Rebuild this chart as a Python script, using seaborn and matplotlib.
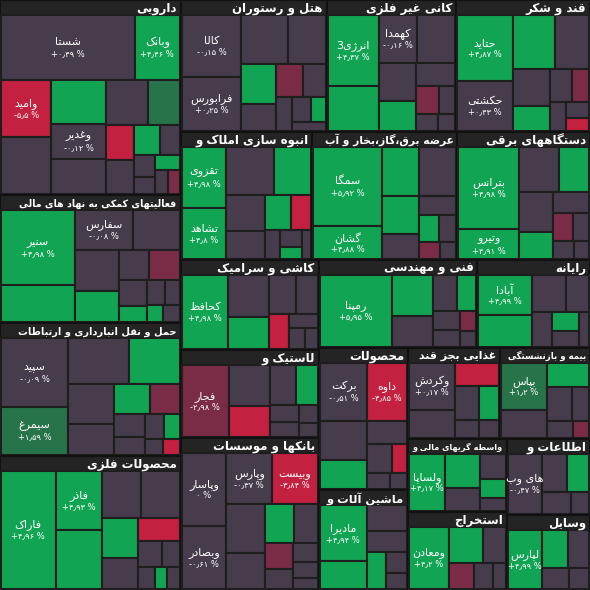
import matplotlib
matplotlib.use("Agg")
import matplotlib.pyplot as plt
import seaborn as sns
from matplotlib.patches import Rectangle

sns.set_theme(style="white")
plt.rcParams['font.family'] = ['DejaVu Sans']

# ---------------- data ----------------
sector_names = ["دارویی", "فعالیتهای کمکی به نهاد های مالی", "حمل و نقل انبارداری و ارتباطات",
                "محصولات فلزی", "هتل و رستوران", "کانی غیر فلزی", "قند و شکر",
                "انبوه سازی املاک و", "عرضه برق،گاز،بخار و آب", "دستگاههای برقی",
                "کاشی و سرامیک", "لاستیک و", "بانکها و موسسات", "فنی و مهندسی",
                "رایانه", "محصولات", "ماشین آلات و", "غذایی بجز قند", "بیمه و بازنشستگی",
                "واسطه گریهای مالی و", "استخراج", "اطلاعات و", "وسایل"]
sector_stocks = [
    [("شستا", 9, 0.49), ("وبانک", 3, 4.46), ("وامید", 3, -5.5), ("وغدیر", 2, -0.12)],
    [("سنیر", 6, 4.98), ("سفارس", 2.5, -0.08)],
    [("سپید", 5, -0.09), ("سیمرغ", 3.5, 1.59)],
    [("فاراک", 7, 4.96), ("فاذر", 3, 4.93)],
    [("کالا", 4, -0.15), ("فرابورس", 3.5, 0.25)],
    [("انرژی3", 4, 4.37), ("کهمدا", 2, -0.16)],
    [("حتاید", 4, 4.87), ("حکشتی", 3, 0.43)],
    [("تقزوی", 3, 4.98), ("تشاهد", 2.5, 4.8)],
    [("سمگا", 6, 5.92), ("گشان", 2.5, 4.88)],
    [("بترانس", 5.5, 4.98), ("وتیرو", 2, 4.91)],
    [("کحافظ", 4, 4.98)],
    [("فجار", 4, -2.98)],
    [("وپاسار", 3.5, 0.0), ("وبصادر", 3, -0.61), ("وپارس", 2.5, -0.37), ("وبیست", 2.5, -3.84)],
    [("رمپنا", 6, 5.95)],
    [("آبادا", 2.5, 4.99)],
    [("برکت", 3, -0.51), ("داوه", 2.5, -3.85)],
    [("مادیرا", 3, 4.94)],
    [("وکردش", 2.5, 0.17)],
    [("بپاس", 2.5, 1.2)],
    [("ولساپا", 2.5, 4.17)],
    [("ومعادن", 3, 4.2)],
    [("های وب", 2.5, -0.47)],
    [("لپارس", 2.5, 4.99)],
]
sector_fill_sizes = [
    [3, 2.5, 2, 2, 1.5, 1, 1, 0.8, 0.6, 0.5, 0.4, 0.4, 0.3, 0.3],
    [3, 2, 2, 1.5, 1, 1, 0.8, 0.5, 0.5, 0.4, 0.3, 0.3],
    [3, 2.5, 2, 1.5, 1.2, 1, 0.8, 0.6, 0.5, 0.4, 0.3, 0.3],
    [3, 2, 2, 1.5, 1.2, 1, 0.7, 0.5, 0.4, 0.3, 0.3],
    [2.5, 2, 1.5, 1, 1, 0.8, 0.6, 0.5, 0.4, 0.3],
    [2.5, 2, 1.5, 1.2, 1, 0.7, 0.5, 0.4, 0.3],
    [2.5, 2, 1.5, 1, 0.8, 0.6, 0.5, 0.4, 0.3],
    [2.5, 2, 1.5, 1.2, 1, 0.8, 0.5, 0.4, 0.3, 0.3],
    [2, 2, 1.5, 1, 0.8, 0.6, 0.5, 0.4, 0.3],
    [2, 1.5, 1.5, 1, 0.8, 0.6, 0.5, 0.4, 0.3],
    [2, 1.5, 1.2, 1, 0.8, 0.5, 0.4, 0.3],
    [2, 1.5, 1.2, 1, 0.6, 0.5, 0.4, 0.3],
    [2, 1.5, 1.2, 1, 0.8, 0.6, 0.5, 0.4, 0.3],
    [2, 1.5, 1, 0.8, 0.6, 0.5, 0.4, 0.3],
    [2, 1.5, 1, 0.8, 0.6, 0.5, 0.4],
    [2, 1.5, 1, 0.8, 0.5, 0.4, 0.3],
    [1.5, 1.2, 1, 0.8, 0.5, 0.4], [1.5, 1.2, 1, 0.8, 0.5, 0.4], [1.5, 1.2, 1, 0.7, 0.5, 0.3],
    [1.5, 1, 0.8, 0.6, 0.4], [1.5, 1, 0.8, 0.6, 0.4], [1.2, 1, 0.8, 0.5], [1.2, 1, 0.7, 0.5],
]
sector_fill_pcts = [
    [0.2, 4.9, -0.5, 0.1, 2.1, -3.5, 0.3, 4.5, -0.8, 0.1, -0.2, 4.7, 0.0, -1.3],
    [4.9, 0.1, -0.4, 4.8, 0.2, -1.5, 0.0, 3.2, 0.1, -0.3, 4.6, 0.2],
    [0.3, 4.9, -0.2, 0.1, 4.7, -1.2, 0.2, 0.5, -0.1, 4.4, 0.0, -3.1],
    [4.9, 0.1, -0.6, 4.5, 0.3, -3.2, 0.2, 0.1, -0.4, 4.8, 0.0],
    [0.2, -0.3, 4.8, 0.1, -1.8, 0.4, 0.0, -0.2, 4.6, 0.1],
    [4.9, 0.2, -0.4, 4.1, 0.1, -2.2, 0.3, 0.0, -0.5],
    [4.8, 0.3, -0.2, 4.6, 0.1, -1.4, 0.0, 0.2, -3.4],
    [0.1, 4.9, -0.7, 0.2, 4.4, -3.1, 0.3, 0.0, 4.7, -0.2],
    [4.9, 0.2, 4.7, -0.3, 0.1, 4.2, 0.0, -1.1, 0.2],
    [0.2, 4.8, -0.4, 4.5, 0.1, -1.6, 0.3, 0.0, -0.2],
    [0.1, 4.7, -0.2, 0.3, -3.4, 0.0, 0.2, -0.1],
    [0.2, -3.6, 0.1, 4.3, -0.5, 0.0, 0.3, -0.2],
    [0.1, -0.3, 4.6, 0.2, -1.9, 0.4, 0.0, -0.2, 0.1],
    [4.9, 0.2, -0.3, 4.4, 0.1, 0.0, -1.2, 0.2],
    [4.8, 0.1, -0.4, 0.3, 4.1, 0.0, -0.2],
    [0.2, 4.7, -0.3, 0.1, -3.2, 0.0, 0.3],
    [4.9, 0.2, -0.5, 4.3, 0.1, 0.0], [0.1, -3.3, 0.2, 4.4, 0.0, -0.3], [0.3, 4.8, -0.2, 0.1, 0.0, -1.4],
    [4.9, 0.1, -0.4, 4.2, 0.0], [4.8, 0.2, -1.7, 0.1, 0.0], [0.2, 4.6, -0.3, 0.1], [4.9, 0.1, -0.2, 0.0],
]

# ---------------- Arabic/Persian shaping ----------------
FORMS = {
    'ا': (0xFE8D, 0xFE8E, None, None), 'آ': (0xFE81, 0xFE82, None, None),
    'ب': (0xFE8F, 0xFE90, 0xFE91, 0xFE92), 'پ': (0xFB56, 0xFB57, 0xFB58, 0xFB59),
    'ت': (0xFE95, 0xFE96, 0xFE97, 0xFE98), 'ث': (0xFE99, 0xFE9A, 0xFE9B, 0xFE9C),
    'ج': (0xFE9D, 0xFE9E, 0xFE9F, 0xFEA0), 'چ': (0xFB7A, 0xFB7B, 0xFB7C, 0xFB7D),
    'ح': (0xFEA1, 0xFEA2, 0xFEA3, 0xFEA4), 'خ': (0xFEA5, 0xFEA6, 0xFEA7, 0xFEA8),
    'د': (0xFEA9, 0xFEAA, None, None), 'ذ': (0xFEAB, 0xFEAC, None, None),
    'ر': (0xFEAD, 0xFEAE, None, None), 'ز': (0xFEAF, 0xFEB0, None, None),
    'ژ': (0xFB8A, 0xFB8B, None, None),
    'س': (0xFEB1, 0xFEB2, 0xFEB3, 0xFEB4), 'ش': (0xFEB5, 0xFEB6, 0xFEB7, 0xFEB8),
    'ص': (0xFEB9, 0xFEBA, 0xFEBB, 0xFEBC), 'ض': (0xFEBD, 0xFEBE, 0xFEBF, 0xFEC0),
    'ط': (0xFEC1, 0xFEC2, 0xFEC3, 0xFEC4), 'ظ': (0xFEC5, 0xFEC6, 0xFEC7, 0xFEC8),
    'ع': (0xFEC9, 0xFECA, 0xFECB, 0xFECC), 'غ': (0xFECD, 0xFECE, 0xFECF, 0xFED0),
    'ف': (0xFED1, 0xFED2, 0xFED3, 0xFED4), 'ق': (0xFED5, 0xFED6, 0xFED7, 0xFED8),
    'ک': (0xFB8E, 0xFB8F, 0xFB90, 0xFB91), 'گ': (0xFB92, 0xFB93, 0xFB94, 0xFB95),
    'ل': (0xFEDD, 0xFEDE, 0xFEDF, 0xFEE0), 'م': (0xFEE1, 0xFEE2, 0xFEE3, 0xFEE4),
    'ن': (0xFEE5, 0xFEE6, 0xFEE7, 0xFEE8), 'و': (0xFEED, 0xFEEE, None, None),
    'ه': (0xFEE9, 0xFEEA, 0xFEEB, 0xFEEC), 'ی': (0xFBFC, 0xFBFD, 0xFBFE, 0xFBFF),
}

def shape(s):
    out = []
    n = len(s)
    for i, ch in enumerate(s):
        if ch not in FORMS:
            out.append(ch)
            continue
        iso, fin, ini, med = FORMS[ch]
        prev = s[i - 1] if i > 0 else ''
        nxt = s[i + 1] if i + 1 < n else ''
        jp = prev in FORMS and FORMS[prev][2] is not None
        jn = nxt in FORMS and ini is not None
        c = med if (jp and jn) else fin if jp else ini if jn else iso
        out.append(chr(c))
    return ''.join(out)[::-1]

PD = str.maketrans('0123456789.', '۰۱۲۳۴۵۶۷۸۹٫')

def pct_label(p):
    sign = '+' if p > 0 else ('-' if p < 0 else '')
    num = f"{abs(p):.2f}".rstrip('0').rstrip('.') if p != 0 else '0'
    return f"{sign}{num.translate(PD)} %"

def color(p):
    if p >= 3: return '#11a553'
    if p >= 1: return '#27744a'
    if p > -1: return '#463c4b'
    if p > -3: return '#7a2b46'
    return '#c4203f'

# ---------------- squarify ----------------
def worst(row, w):
    s = sum(row)
    return max(max(w * w * r / (s * s), s * s / (w * w * r)) for r in row)

def layout_row(row, x, y, dx, dy):
    s = sum(row)
    rects = []
    if dx >= dy:
        wcol = s / dy
        yy = y
        for r in row:
            hh = r / wcol
            rects.append((x, yy, wcol, hh)); yy += hh
        return rects, (x + wcol, y, dx - wcol, dy)
    hrow = s / dx
    xx = x
    for r in row:
        ww = r / hrow
        rects.append((xx, y, ww, hrow)); xx += ww
    return rects, (x, y + hrow, dx, dy - hrow)

def squarify(values, x, y, dx, dy):
    tot = sum(values)
    vals = [v * dx * dy / tot for v in values]
    rects, row, i = [], [], 0
    while i < len(vals):
        side = min(dx, dy)
        v = vals[i]
        if not row or worst(row + [v], side) <= worst(row, side):
            row.append(v); i += 1
        else:
            r, (x, y, dx, dy) = layout_row(row, x, y, dx, dy)
            rects += r; row = []
    if row:
        r, _ = layout_row(row, x, y, dx, dy)
        rects += r
    return rects

# ---------------- draw ----------------
fig = plt.figure(figsize=(5.9, 5.9), dpi=100)
fig.patch.set_facecolor('#1e1e1e')
ax = fig.add_axes([0, 0, 1, 1])
ax.set_facecolor('#1e1e1e')
ax.set_xlim(0, 590); ax.set_ylim(590, 0); ax.axis('off')

sector_totals = [sum(v for _, v, _ in st) + sum(f) for st, f in zip(sector_stocks, sector_fill_sizes)]
srects = squarify(sector_totals, 0, 0, 590, 590)
HDR = 15
for name, st, fs, fp, (x, y, w, h) in zip(sector_names, sector_stocks, sector_fill_sizes, sector_fill_pcts, srects):
    ax.add_patch(Rectangle((x, y), w, h, facecolor='#242424', edgecolor='#111111', lw=1.5))
    fsz = max(3.5, min(8.5, (w - 10) / (len(name) * 0.8)))
    ax.text(x + w - 4, y + HDR / 2 + 1, shape(name), color='white', fontsize=fsz, fontweight='bold',
            ha='right', va='center')
    items = [(n, v, p) for n, v, p in st] + [("", v, p) for v, p in zip(fs, fp)]
    items.sort(key=lambda t: -t[1])
    rr = squarify([t[1] for t in items], x + 1, y + HDR, w - 2, h - HDR - 1)
    for (n, v, p), (rx, ry, rw, rh) in zip(items, rr):
        ax.add_patch(Rectangle((rx, ry), rw, rh, facecolor=color(p), edgecolor='#1e1e1e', lw=1.5))
        if n:
            ns = max(4.5, min(8, (rw - 4) / (len(n) * 0.6)))
            ax.text(rx + rw / 2, ry + rh / 2 - 5, shape(n), color='white', fontsize=ns,
                    ha='center', va='center')
            ax.text(rx + rw / 2, ry + rh / 2 + 6, pct_label(p), color='white', fontsize=min(6, ns),
                    ha='center', va='center')

fig.savefig('out.png', dpi=100, facecolor=fig.get_facecolor())
